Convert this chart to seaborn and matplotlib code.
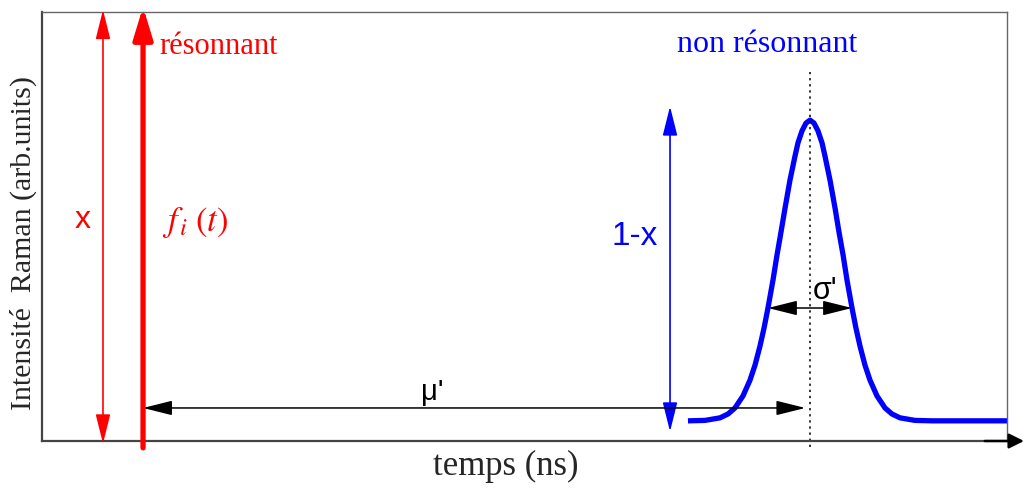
import numpy as np
import pandas as pd
import seaborn as sns
import matplotlib.pyplot as plt

# non-resonant gaussian (time in arb. units, intensity 0..1)
t_nr = [66.94, 68.70, 70.26, 71.09, 71.81, 72.64, 73.37, 73.89, 74.40, 74.82, 75.23, 75.75, 76.17,
        76.58, 77.00, 77.51, 78.03, 78.34, 78.76, 79.17, 79.59,
        80.00, 80.41, 80.83, 81.14, 81.66, 82.18, 82.59, 83.01, 83.42, 83.94, 84.35, 84.77,
        85.28, 85.80, 86.53, 87.36, 88.08, 88.91, 90.47, 92.23, 100.0]
i_nr = [0.047, 0.048, 0.054, 0.063, 0.077, 0.105, 0.142, 0.177, 0.221, 0.263, 0.310, 0.375, 0.434,
        0.487, 0.543, 0.608, 0.664, 0.695, 0.723, 0.741, 0.748,
        0.741, 0.723, 0.695, 0.664, 0.608, 0.543, 0.487, 0.434, 0.375, 0.310, 0.263, 0.221,
        0.177, 0.142, 0.105, 0.077, 0.063, 0.054, 0.048, 0.047, 0.047]

# resonant component (a delta at t0)
t_res = [10.47, 10.47]
i_res = [-0.016, 1.012]

x_res = 6.32        # amplitude arrow x
x_nr = 65.08        # amplitude arrow 1-x
mu = 79.6           # centre of gaussian
sig_lo, sig_hi = 75.23, 83.94
nr_top, nr_bot = 0.78, 0.022

df = pd.DataFrame({'t': t_nr, 'I': i_nr})

sns.set_theme(style='white')
plt.rcParams['font.family'] = ['Liberation Serif', 'DejaVu Sans']
plt.rcParams['mathtext.fontset'] = 'stix'

fig = plt.figure(figsize=(10.24, 4.93), dpi=100)
ax = fig.add_axes([42 / 1024, 1 - 441 / 493, 965 / 1024, 429 / 493])

sns.lineplot(data=df, x='t', y='I', color='#0000ff', lw=3.8, ax=ax, estimator=None, sort=False,
             solid_capstyle='butt', solid_joinstyle='round')
ax.set_xlim(0, 100)
ax.set_ylim(0, 1)

# dotted centre line
ax.plot([mu, mu], [-0.014, 0.86], ls=(0, (1.5, 2.5)), color='black', lw=1.1, clip_on=False)

# resonant thick arrow
ax.annotate('', xy=(t_res[0], i_res[1]), xytext=(t_res[0], i_res[0]), xycoords='data',
            arrowprops=dict(arrowstyle='-|>,head_length=1.9,head_width=0.58', color='#ff0000',
                            lw=3.8, shrinkA=0, shrinkB=0, mutation_scale=10), annotation_clip=False)

# amplitude arrows
ax.annotate('', xy=(x_res, 1.005), xytext=(x_res, -0.006),
            arrowprops=dict(arrowstyle='<|-|>,head_length=1.8,head_width=0.45', color='#ff0000',
                            lw=1.2, shrinkA=0, shrinkB=0, mutation_scale=10), annotation_clip=False)
ax.annotate('', xy=(x_nr, nr_top), xytext=(x_nr, nr_bot),
            arrowprops=dict(arrowstyle='<|-|>,head_length=1.8,head_width=0.45', color='#0000ff',
                            lw=1.2, shrinkA=0, shrinkB=0, mutation_scale=10), annotation_clip=False)

# mu' and sigma' arrows
ax.annotate('', xy=(t_res[0], 0.077), xytext=(mu - 0.5, 0.077),
            arrowprops=dict(arrowstyle='<|-|>,head_length=1.8,head_width=0.45', color='black',
                            lw=1.1, shrinkA=0, shrinkB=0, mutation_scale=10))
ax.annotate('', xy=(sig_lo, 0.31), xytext=(sig_hi, 0.31),
            arrowprops=dict(arrowstyle='<|-|>,head_length=1.8,head_width=0.45', color='black',
                            lw=1.1, shrinkA=0, shrinkB=0, mutation_scale=10))

# time axis arrow
ax.annotate('', xy=(1.0176, 0), xytext=(0.977, 0), xycoords='axes fraction',
            arrowprops=dict(arrowstyle='-|>,head_length=0.9,head_width=0.45', color='black',
                            lw=1.8, shrinkA=0, shrinkB=0, mutation_scale=10), annotation_clip=False)

# texts
ax.text(12.12, 0.902, 'résonnant', color='#ff0000', fontsize=22, va='baseline', ha='left')
ax.text(65.8, 0.907, 'non résonnant', color='#0000ff', fontsize=23, va='baseline', ha='left')
ax.text(4.25, 0.515, 'x', color='#ff0000', fontsize=23, family='Liberation Sans', ha='center', va='center')
ax.text(61.45, 0.476, '1-x', color='#0000ff', fontsize=24, family='Liberation Sans', ha='center', va='center')
ax.text(12.4, 0.51, r'$f_{\,i}\;(t)$', color='#ff0000', fontsize=25, ha='left', va='center')
ax.text(40.4, 0.114, "μ'", color='black', fontsize=21, family='Liberation Sans', ha='center', va='center')
ax.text(81.1, 0.35, "σ'", color='black', fontsize=22, family='Liberation Sans', ha='center', va='center')

fig.text(506 / 1024, 1 - 466 / 493, 'temps (ns)', fontsize=25, ha='center', va='center')
fig.text(23 / 1024, 1 - 243 / 493, 'Intensité  Raman (arb.units)', fontsize=21.5,
         rotation=90, ha='center', va='center')

ax.set_xlabel('')
ax.set_ylabel('')
ax.set_xticks([])
ax.set_yticks([])
for s in ['top', 'right']:
    ax.spines[s].set_color('#666666')
    ax.spines[s].set_linewidth(1.0)
for s in ['left', 'bottom']:
    ax.spines[s].set_color('#444444')
    ax.spines[s].set_linewidth(1.6)

fig.savefig('out.png', dpi=100)
